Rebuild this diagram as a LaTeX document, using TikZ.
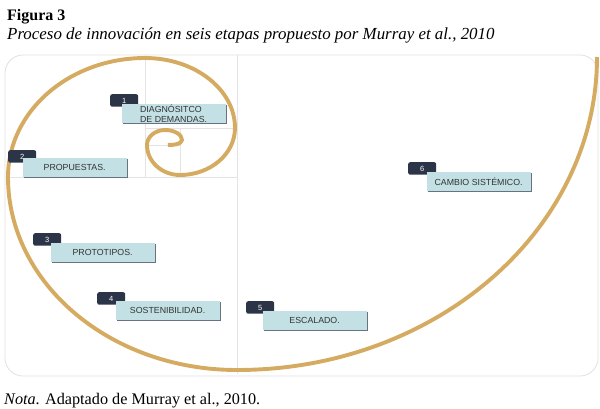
\documentclass[tikz,border=0pt]{standalone}
\usepackage{fontspec}
\setmainfont{Liberation Serif}
\setsansfont{Liberation Sans}
\usetikzlibrary{positioning,shadows}
\definecolor{dorado}{HTML}{D5AB62}
\definecolor{marino}{HTML}{2C3548}
\definecolor{celeste}{HTML}{C3E1E4}
\definecolor{rejilla}{HTML}{E4E4E4}

\begin{document}
\begin{tikzpicture}[x=1pt,y=-1pt,node distance=1cm,
  num/.style={rectangle,rounded corners=2pt,fill=marino,text=white,anchor=north west,
    font=\sffamily\fontsize{7.5}{8}\selectfont,minimum width=28pt,minimum height=12.5pt,inner sep=0pt},
  etapa/.style={rectangle,fill=celeste,text=black!80,font=\sffamily\fontsize{8.8}{9.5}\selectfont,
    minimum width=104pt,minimum height=19pt,inner sep=1pt,align=left,
    drop shadow={shadow xshift=1.3pt,shadow yshift=-1pt,fill=marino!70,opacity=1}},
  texto/.style={anchor=base west,inner sep=0pt,font=\fontsize{16.2}{19}\selectfont},
  marco/.style={draw=black!12,rounded corners=18pt,line width=0.8pt},
  rej/.style={draw=rejilla,line width=0.7pt},
  espiral/.style={draw=dorado,line width=3.9pt}]

  \useasboundingbox (0,0) rectangle (600,408);

  % titulo y nota
  \node[texto,font=\fontsize{16}{19}\selectfont\bfseries] (fig) at (7,20) {Figura 3};
  \node[texto,font=\fontsize{16.9}{19}\selectfont\itshape] (tit) at (7,39) {Proceso de innovación en seis etapas propuesto por Murray et al., 2010};
  \node[texto] (nota) at (4,404) {\textit{Nota}. Adaptado de Murray et al., 2010.};

  % marco y rejilla
  \draw[marco] (5,55) rectangle (598,376);
  \draw[rej] (237,55) -- (237,374);
  \draw[rej] (5,177) -- (237,177);
  \draw[rej] (145,55) -- (145,177);
  \draw[rej] (145,128) -- (237,128);
  \draw[rej] (180,128) -- (180,177);
  \draw[rej] (145,145) -- (180,145);

  % espiral
  \draw[espiral] (597,57)
    arc[start angle=0,end angle=90,x radius=360,y radius=313]
    arc[start angle=90,end angle=180,x radius=229,y radius=193]
    arc[start angle=180,end angle=270,x radius=137,y radius=119]
    arc[start angle=270,end angle=360,x radius=90,y radius=70]
    arc[start angle=0,end angle=90,x radius=55,y radius=47]
    arc[start angle=90,end angle=180,x radius=33,y radius=30]
    arc[start angle=180,end angle=270,x radius=18,y radius=15]
    arc[start angle=270,end angle=360,x radius=17,y radius=10]
    arc[start angle=0,end angle=100,x radius=12,y radius=5];

  % etapas
  \node[num] (t1) at (110,94) {1};
  \node[etapa] (e1) [below right=-3pt and -17pt of t1] {DIAGNÓSITCO\\DE DEMANDAS.};

  \node[num] (t2) at (8,150) {2};
  \node[etapa] (e2) [below right=-5pt and -14pt of t2] {PROPUESTAS.};

  \node[num] (t3) at (33,233) {3};
  \node[etapa] (e3) [below right=-3pt and -11pt of t3] {PROTOTIPOS.};

  \node[num] (t4) at (97,292) {4};
  \node[etapa] (e4) [below right=-4pt and -10pt of t4] {SOSTENIBILIDAD.};

  \node[num] (t5) at (246,301) {5};
  \node[etapa] (e5) [below right=-3pt and -12pt of t5] {ESCALADO.};

  \node[num] (t6) at (408,162) {6};
  \node[etapa] (e6) [below right=-3pt and -10pt of t6] {CAMBIO SISTÉMICO.};

\end{tikzpicture}
\end{document}
